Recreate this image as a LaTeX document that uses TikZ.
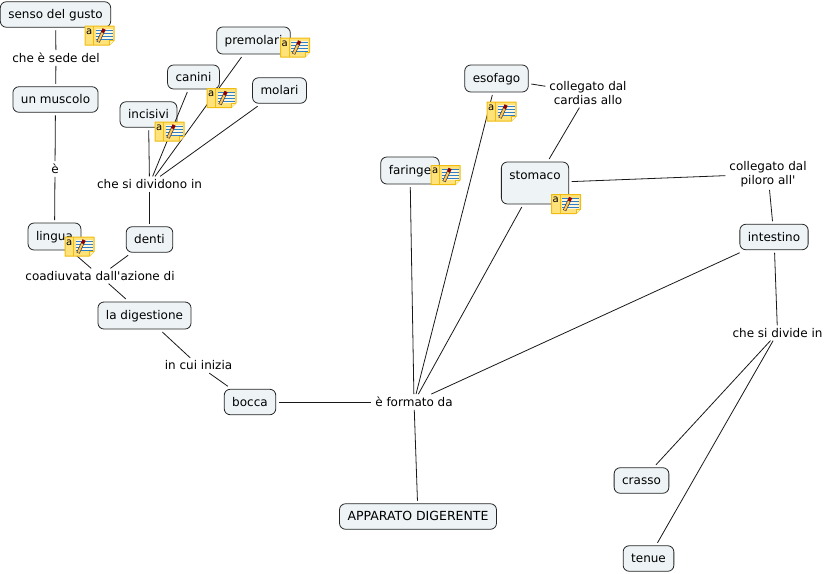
\documentclass[tikz,border=0pt]{standalone}
\usepackage{fontspec}
\setmainfont{DejaVu Sans}
\usetikzlibrary{positioning}
\definecolor{conceptfill}{HTML}{EEF4F6}
\definecolor{notefill}{HTML}{FFE27A}
\definecolor{noteedge}{HTML}{F0BC10}
\definecolor{noteline}{HTML}{2F7FC8}

\begin{document}
\begin{tikzpicture}[x=1pt, y=-1pt, font=\fontsize{12}{14}\selectfont,
                concept/.style={draw=black!85, fill=conceptfill, rounded corners=6pt, line width=0.8pt,
                    inner xsep=8pt, inner ysep=0pt, minimum height=25.5pt, outer sep=3pt,
                    text height=10pt, text depth=2pt},
                phrase/.style={inner xsep=1pt, inner ysep=0pt, align=center, outer sep=3pt},
                link/.style={draw=black!90, line width=0.8pt},
                noteicon/.pic={
                    \draw[noteedge, fill=notefill, line width=1pt, line join=round]
                        (-14.5,-9.5) -- (14.5,-9.5) -- (14.5,5) -- (10,9.5) -- (-14.5,9.5) -- cycle;
                    \draw[noteedge, line width=0.7pt] (-6,-9.5) -- (-6,9.5);
                    \fill[white!75!notefill] (-4,-6.5) rectangle (13,4.5);
                    \draw[noteedge, fill=white!50!notefill, line width=0.5pt] (14.5,5) -- (10,5) -- (10,9.5);
                    \foreach \liney in {-5.5,-2.5,0.5,3.5}
                        \draw[noteline, line width=1pt] (-4,\liney) -- (13,\liney);
                    \draw[black!75, line width=3.4pt] (-1.5,6.5) -- (3,-3);
                    \draw[notefill!70!orange, line width=2pt] (-1.3,6) -- (2.9,-2.7);
                    \draw[red!55!black, line width=3.4pt] (3,-3) -- (4.6,-6.5);
                    \node[inner sep=0pt, font=\fontsize{10}{10}\selectfont] at (-10.3,-4) {a};
                }]
                \useasboundingbox (0,0) rectangle (826,573);

                % Concepts - left side
                \node[concept] (gusto) at (55.5,14.5) {senso del gusto};
                \node[concept] (muscolo) at (55.5,99.5) {un muscolo};
                \node[concept, minimum height=27pt] (lingua) at (54.5,236.5) {lingua};
                \node[concept] (denti) at (149.5,239.5) {denti};
                \node[concept, minimum height=27pt] (digestione) at (144.5,315.5) {la digestione};
                \node[concept] (bocca) at (250,402) {bocca};

                % Teeth
                \node[concept] (incisivi) at (148.5,114.5) {incisivi};
                \node[concept, minimum height=24pt] (canini) at (193.5,77) {canini};
                \node[concept, minimum height=27pt] (premolari) at (253.5,40.5) {premolari};
                \node[concept] (molari) at (279.5,90.5) {molari};

                % Concepts - centre and right side
                \node[concept, font=\fontsize{12.5}{14}\selectfont] (apparato) at (418,516.5) {APPARATO DIGERENTE};
                \node[concept, minimum height=27pt] (faringe) at (410,170.5) {faringe};
                \node[concept, minimum height=27pt] (esofago) at (496.5,78.5) {esofago};
                \node[concept, minimum height=42pt, text height=13pt, text depth=21pt] (stomaco) at (535,183) {stomaco};
                \node[concept] (intestino) at (774,237) {intestino};
                \node[concept] (crasso) at (641.5,480.5) {crasso};
                \node[concept] (tenue) at (648.5,558.5) {tenue};

                % Linking phrases
                \node[phrase] (sede) at (56,58) {che è sede del};
                \node[phrase] (e) at (55,169) {è};
                \node[phrase] (dividono) at (149.5,184) {che si dividono in};
                \node[phrase] (coadiuvata) at (100,276) {coadiuvata dall\textquotesingle azione di};
                \node[phrase] (inizia) at (198.5,365.5) {in cui inizia};
                \node[phrase] (formato) at (414,402) {è formato da};
                \node[phrase] (cardias) at (588,93) {collegato dal\\ cardias allo};
                \node[phrase] (piloro) at (768,174) {collegato dal\\ piloro all\textquotesingle};
                \node[phrase] (divide) at (777.5,333) {che si divide in};

                % Connections
                \draw[link] (gusto) -- (sede);
                \draw[link] (sede) -- (muscolo);
                \draw[link] (muscolo) -- (e);
                \draw[link] (e) -- (lingua);
                \draw[link] (incisivi) -- (dividono);
                \draw[link] (canini) -- (dividono);
                \draw[link] (premolari) -- (dividono);
                \draw[link] (molari) -- (dividono);
                \draw[link] (dividono) -- (denti);
                \draw[link] (lingua) -- (coadiuvata);
                \draw[link] (denti) -- (coadiuvata);
                \draw[link] (coadiuvata) -- (digestione);
                \draw[link] (digestione) -- (inizia);
                \draw[link] (inizia) -- (bocca);
                \draw[link] (bocca) -- (formato);
                \draw[link] (faringe) -- (formato);
                \draw[link] (esofago) -- (formato);
                \draw[link] (stomaco) -- (formato);
                \draw[link] (intestino) -- (formato);
                \draw[link] (formato) -- (apparato);
                \draw[link] (esofago) -- (cardias);
                \draw[link] (cardias) -- (stomaco);
                \draw[link] (stomaco) -- (piloro);
                \draw[link] (piloro) -- (intestino);
                \draw[link] (intestino) -- (divide);
                \draw[link] (divide) -- (crasso);
                \draw[link] (divide) -- (tenue);

                % Note icons
                \pic at (99.5,35.5) {noteicon};
                \pic at (295,47.5) {noteicon};
                \pic at (221.5,98) {noteicon};
                \pic at (169.5,131.5) {noteicon};
                \pic at (79.5,246.5) {noteicon};
                \pic at (445.5,175) {noteicon};
                \pic at (501.5,111.5) {noteicon};
                \pic at (566,204) {noteicon};
            \end{tikzpicture}
\end{document}
